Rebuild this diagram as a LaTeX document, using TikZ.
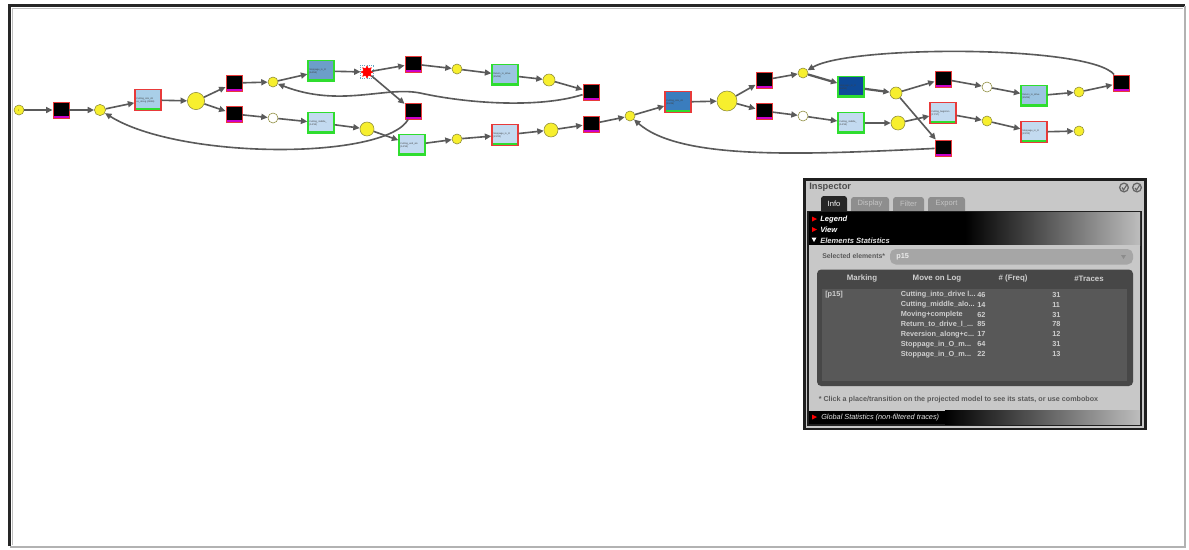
\documentclass[tikz,border=0pt]{standalone}
\usepackage{fontspec}
\setmainfont{Liberation Sans}
\usetikzlibrary{arrows.meta,shapes.geometric}
\definecolor{edgec}{HTML}{5A5A5A}
\definecolor{plc}{HTML}{F7EF2E}
\definecolor{plborder}{HTML}{8C8A3A}
\definecolor{bxlight}{HTML}{C3DAF0}
\definecolor{bxpale}{HTML}{A9CFE8}
\definecolor{bxmid}{HTML}{9CC4E2}
\definecolor{bxsteel}{HTML}{6C9EC9}
\definecolor{bxblue}{HTML}{3A7DBE}
\definecolor{bxdark}{HTML}{0E4A98}
\definecolor{trred}{HTML}{E83A3A}
\definecolor{grbord}{HTML}{2FDD2F}
\definecolor{magstrip}{HTML}{CC00CC}
\definecolor{pgray}{HTML}{C8C8C8}
\definecolor{hdrlight}{HTML}{BDBDBD}
\definecolor{tabgray}{HTML}{8E8E8E}
\definecolor{tabtext}{HTML}{C4C4C4}
\definecolor{tbl}{HTML}{474747}
\definecolor{tblin}{HTML}{585858}
\definecolor{tbltext}{HTML}{CFCFCF}
\definecolor{combo}{HTML}{A6A6A6}
\definecolor{foot}{HTML}{5A5A5A}
\begin{document}
\begin{tikzpicture}[x=0.025cm,y=-0.025cm,
  pl/.style={circle, draw=plborder, fill=plc, line width=0.4pt, inner sep=0pt, minimum size=#1},
  pl/.default=0.25cm,
  wpl/.style={pl=#1, fill=white},
  wpl/.default=0.25cm,
  btr/.style={rectangle, draw=trred, fill=black, line width=0.6pt, minimum size=0.4cm, inner sep=0pt,
    path picture={\fill[magstrip] ([yshift=1.6pt]path picture bounding box.south west) rectangle (path picture bounding box.south east);}},
  tbox/.style={rectangle, draw=#1, line width=0.9pt, minimum width=0.65cm, minimum height=0.525cm,
    inner sep=0.6pt, text width=0.58cm, align=left, font=\fontsize{1.7}{2.0}\selectfont, text=black!75,
    path picture={\fill[grbord] ([yshift=2pt]path picture bounding box.south west) rectangle (path picture bounding box.south east);}},
  edg/.style={draw=edgec, line width=1.15pt, -{Triangle[length=4.6pt,width=4.2pt]}},
  edgb/.style={edg, line width=1.6pt},
  ptxt/.style={anchor=west, inner sep=0pt, font=\fontsize{5.2}{6}\selectfont},
  rowtxt/.style={ptxt, text=tbltext, font=\fontsize{5.2}{6}\selectfont\bfseries},
  hdtxt/.style={anchor=center, inner sep=0pt, text=tbltext, font=\fontsize{5.6}{6}\selectfont\bfseries},
]
\useasboundingbox (0,0) rectangle (1189,549);
\fill[white] (0,0) rectangle (1189,549);
% frame
\draw[black!85, line width=1.8pt] (9.5,546) -- (9.5,5.5) -- (1185,5.5);
\draw[black!25, line width=1.4pt] (12.5,545) -- (12.5,8.5) -- (1183,8.5);
\draw[black!30, line width=1.4pt] (10,547) -- (1185,547) -- (1185,6);

% ---------- left net ----------
\node[pl=0.25cm, font=\fontsize{2}{2}\selectfont] (p1) at (19,110) {i};
\node[btr] (T1) at (61,110) {};
\node[pl=0.28cm] (p2) at (100,110) {};
\node[tbox=trred, fill=bxpale] (T2) at (148,100) {Cutting\_into\_dri ve\_along (46/46)};
\node[pl=0.43cm] (b1) at (196,101) {};
\node[btr] (T3) at (234,83) {};
\node[btr] (T4) at (234,114) {};
\node[pl] (c3) at (273,82) {};
\node[wpl] (w1) at (273,118) {};
\node[tbox=grbord, fill=bxsteel] (T5) at (321,71) {Stoppage\_in\_O (64/64)};
\node[star, star points=8, star point ratio=1.7, fill=red, draw=red, inner sep=0pt, minimum size=0.3cm] (st) at (367,72) {};
\node[draw=cyan!50!gray, densely dotted, line width=0.5pt, minimum size=0.34cm, inner sep=0pt] (stsel) at (367,72) {};
\node[btr] (T6) at (413,64) {};
\node[btr] (T9) at (413,111) {};
\node[pl] (c4) at (457,69) {};
\node[tbox=grbord, fill=bxmid] (T7) at (505,75) {Return\_to\_drive (85/85)};
\node[pl=0.3cm] (c5) at (549,80) {};
\node[btr] (T8) at (591,92) {};
\node[tbox=grbord, fill=bxlight] (T10) at (321,123) {Cutting\_middle\_ (14/14)};
\node[pl=0.35cm] (c6) at (367,129) {};
\node[tbox=grbord, fill=bxlight] (T11) at (412,145) {Cutting\_end\_alo (14/14)};
\node[pl] (c7) at (457,139) {};
\node[tbox=trred, fill=bxlight] (T12) at (505,135) {Stoppage\_in\_O (22/22)};
\node[pl=0.35cm] (c8) at (551,130) {};
\node[btr] (T13) at (591,124) {};

% ---------- right net ----------
\node[pl] (p9) at (630,116) {};
\node[tbox=trred, fill=bxblue] (T14) at (678,102) {Cutting\_into\_dri (46/46)};
\node[pl=0.5cm] (b2) at (727,101) {};
\node[btr] (T15) at (764,80) {};
\node[btr] (T16) at (764,111) {};
\node[pl] (c10) at (803,73) {};
\node[wpl] (w2) at (803,116) {};
\node[tbox=grbord, fill=bxdark] (T17) at (851,87) {Stoppage\_in\_O (64/64)};
\node[tbox=grbord, fill=bxlight] (T18) at (851,123) {Cutting\_middle\_ (14/14)};
\node[pl=0.3cm] (c11) at (896,93) {};
\node[pl=0.35cm] (c12) at (898,123) {};
\node[btr] (T19) at (943,79) {};
\node[btr] (T20) at (943,148) {};
\node[wpl] (w3) at (987,87) {};
\node[tbox=grbord, fill=bxmid] (T21) at (1034,96) {Return\_to\_drive (85/85)};
\node[pl] (c13) at (1079,92) {};
\node[btr] (T22) at (1121,83) {};
\node[tbox=trred, fill=bxlight] (T23) at (943,113) {Cutting\_beginnin (17/17)};
\node[pl] (c14) at (987,121) {};
\node[tbox=trred, fill=bxlight] (T24) at (1034,132) {Stoppage\_in\_O (22/22)};
\node[pl] (c15) at (1079,131) {};

% ---------- edges left ----------
\draw[edg] (p1) -- (T1);
\draw[edg] (T1) -- (p2);
\draw[edg] (p2) -- (T2);
\draw[edg] (T2) -- (b1);
\draw[edg] (b1) -- (T3);
\draw[edg] (b1) -- (T4);
\draw[edg] (T3) -- (c3);
\draw[edg] (T4) -- (w1);
\draw[edg] (c3) -- (T5);
\draw[edg] (T5) -- (st);
\draw[edg] (st) -- (T6);
\draw[edg] (st) -- (T9);
\draw[edg] (T6) -- (c4);
\draw[edg] (c4) -- (T7);
\draw[edg] (T7) -- (c5);
\draw[edg] (c5) -- (T8);
\draw[edg] (T8) .. controls (540,108) and (470,104) .. (420,93) .. controls (385,86) and (340,108) .. (c3);
\draw[edg] (w1) -- (T10);
\draw[edg] (T10) -- (c6);
\draw[edg] (c6) -- (T11);
\draw[edg] (T11) -- (c7);
\draw[edg] (c7) -- (T12);
\draw[edg] (T12) -- (c8);
\draw[edg] (c8) -- (T13);
\draw[edg] (T13) -- (p9);
\draw[edg] (T9) .. controls (385,160) and (180,160) .. (p2);

% ---------- edges right ----------
\draw[edg] (p9) -- (T14);
\draw[edg] (T14) -- (b2);
\draw[edg] (b2) -- (T15);
\draw[edg] (b2) -- (T16);
\draw[edg] (T15) -- (c10);
\draw[edg] (T16) -- (w2);
\draw[edgb] (c10) -- (T17);
\draw[edgb] (T17) -- (c11);
\draw[edg] (w2) -- (T18);
\draw[edg] (T18) -- (c12);
\draw[edg] (c11) -- (T19);
\draw[edg] (c11) -- (T20);
\draw[edg] (T19) -- (w3);
\draw[edg] (w3) -- (T21);
\draw[edg] (T21) -- (c13);
\draw[edg] (c13) -- (T22);
\draw[edg] (T22) .. controls (1090,45) and (850,45) .. (c10);
\draw[edg] (c12) -- (T23);
\draw[edg] (T23) -- (c14);
\draw[edg] (c14) -- (T24);
\draw[edg] (T24) -- (c15);
\draw[edg] (T20) .. controls (800,155) and (680,160) .. (p9);

% ---------- inspector ----------
\fill[black!88] (803,178) rectangle (1147,430);
\fill[pgray] (806,181) rectangle (1144,427.5);
\node[ptxt, text=black!70, font=\fontsize{6.6}{7}\selectfont\bfseries] (ititle) at (809,187.5) {Inspector};
\draw[black!60, line width=0.9pt] (1124,187.5) circle[radius=3.1pt];
\draw[black!60, line width=0.8pt] (1122,187.5) -- (1123.5,190) -- (1127,184.5);
\draw[black!60, line width=0.9pt] (1137,187.5) circle[radius=3.1pt];
\draw[black!60, line width=0.8pt] (1135,188) -- (1136.5,190) -- (1140,184.5);
% tabs
\fill[black!85, rounded corners=2pt] (821,196) rectangle (847,215);
\fill[tabgray, rounded corners=2pt] (851,197) rectangle (889,215);
\fill[tabgray, rounded corners=2pt] (893,197) rectangle (924,215);
\fill[tabgray, rounded corners=2pt] (928,197) rectangle (965,215);
\node[anchor=center, inner sep=0pt, text=white, font=\fontsize{5.4}{6}\selectfont] (tinfo) at (834,204) {Info};
\node[anchor=center, inner sep=0pt, text=tabtext, font=\fontsize{5.4}{6}\selectfont] (tdisp) at (870,204) {Display};
\node[anchor=center, inner sep=0pt, text=tabtext, font=\fontsize{5.4}{6}\selectfont] (tfilt) at (908.5,204) {Filter};
\node[anchor=center, inner sep=0pt, text=tabtext, font=\fontsize{5.4}{6}\selectfont] (texp) at (946.5,204) {Export};
% content panel
\fill[black!88] (807,210.5) rectangle (1142,425.5);
\fill[black] (809,212) rectangle (965,245);
\shade[left color=black, right color=hdrlight] (965,212) rectangle (1140,245);
\fill[pgray] (809,245) rectangle (1140,410.5);
\fill[black] (809,410.5) rectangle (945,424);
\shade[left color=black, right color=hdrlight] (945,410.5) rectangle (1140,424);
\fill[red] (812,216.5) -- (817,219) -- (812,221.5) -- cycle;
\fill[red] (812,227) -- (817,229.5) -- (812,232) -- cycle;
\fill[white] (811.5,237.5) -- (816.5,237.5) -- (814,242) -- cycle;
\node[ptxt, text=white, font=\fontsize{5.4}{6}\selectfont\bfseries\itshape] (hleg) at (820,219.5) {Legend};
\node[ptxt, text=white, font=\fontsize{5.4}{6}\selectfont\bfseries\itshape] (hview) at (820,230) {View};
\node[ptxt, text=white!90!black, font=\fontsize{5.4}{6}\selectfont\bfseries\itshape] (hel) at (820,240.5) {Elements Statistics};
% selected elements
\node[ptxt, text=black!65, font=\fontsize{4.9}{6}\selectfont\bfseries] (sel) at (822,256.5) {Selected elements*};
\fill[combo, rounded corners=4pt] (890,249) rectangle (1133,264.5);
\node[ptxt, text=white!92!black, font=\fontsize{5.2}{6}\selectfont\bfseries] (selv) at (896,256.8) {p15};
\fill[black!45] (1121,255) -- (1126,255) -- (1123.5,259) -- cycle;
% table
\fill[tbl, rounded corners=3pt] (817,269.5) rectangle (1133,386);
\fill[tblin] (822,289) rectangle (1127,381);
\node[hdtxt] (hmark) at (862,278.5) {Marking};
\node[hdtxt] (hmove) at (937,278.5) {Move on Log};
\node[hdtxt] (hfreq) at (1013,278.5) {\# (Freq)};
\node[hdtxt] (htr) at (1089,278.5) {\#Traces};
\node[rowtxt] (mk) at (825,294.5) {[p15]};
\node[rowtxt] (m1) at (900.5,294.5) {Cutting\_into\_drive l...};
\node[rowtxt] (m2) at (900.5,304.5) {Cutting\_middle\_alo...};
\node[rowtxt] (m3) at (900.5,314.5) {Moving+complete};
\node[rowtxt] (m4) at (900.5,324.3) {Return\_to\_drive\_l\_...};
\node[rowtxt] (m5) at (900.5,334.2) {Reversion\_along+c...};
\node[rowtxt] (m6) at (900.5,344.2) {Stoppage\_in\_O\_m...};
\node[rowtxt] (m7) at (900.5,354.2) {Stoppage\_in\_O\_m...};
\node[rowtxt] (f1) at (977,294.5) {46};
\node[rowtxt] (f2) at (977,304.5) {14};
\node[rowtxt] (f3) at (977,314.5) {62};
\node[rowtxt] (f4) at (977,324.3) {85};
\node[rowtxt] (f5) at (977,334.2) {17};
\node[rowtxt] (f6) at (977,344.2) {64};
\node[rowtxt] (f7) at (977,354.2) {22};
\node[rowtxt] (r1) at (1052,294.5) {31};
\node[rowtxt] (r2) at (1052,304.5) {11};
\node[rowtxt] (r3) at (1052,314.5) {31};
\node[rowtxt] (r4) at (1052,324.3) {78};
\node[rowtxt] (r5) at (1052,334.2) {12};
\node[rowtxt] (r6) at (1052,344.2) {31};
\node[rowtxt] (r7) at (1052,354.2) {13};
% footer
\node[ptxt, text=foot, font=\fontsize{5.1}{6}\selectfont\bfseries] (foot) at (818.5,399.5) {* Click a place/transition on the projected model to see its stats, or use combobox};
\fill[red] (812,414.5) -- (817,417) -- (812,419.5) -- cycle;
\node[ptxt, text=white!92!black, font=\fontsize{5.2}{6}\selectfont\itshape] (glob) at (821,417.3) {Global Statistics (non-filtered traces)};
\end{tikzpicture}
\end{document}
